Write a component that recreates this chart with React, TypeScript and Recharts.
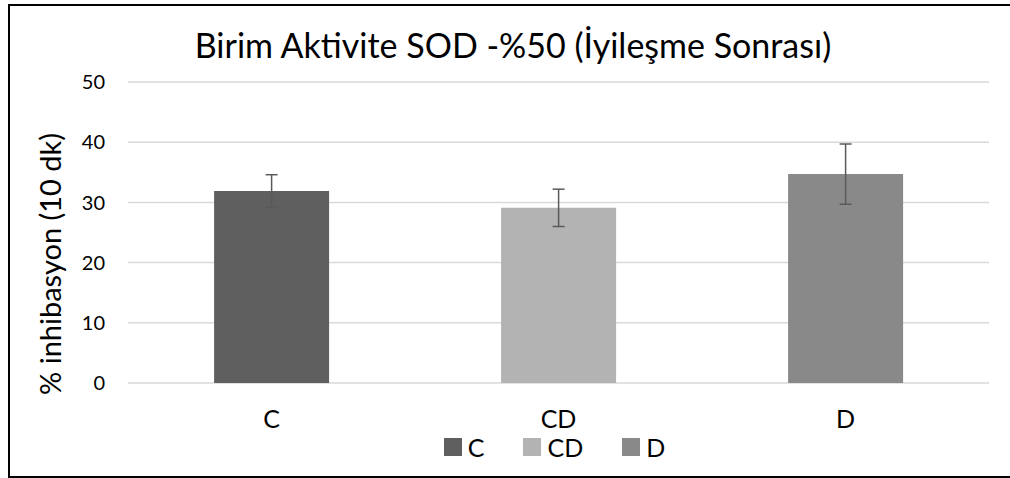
import { Bar, BarChart, CartesianGrid, Cell, ErrorBar, Legend, XAxis, YAxis } from "recharts";

const categories = ["C", "CD", "D"];
const means = [31.9, 29.1, 34.7];
const errors = [2.7, 3.1, 5.0];
const yTicks = [0, 10, 20, 30, 40, 50];
const barColors = ["#5f5f5f", "#b3b3b3", "#898989"];

const TITLE = "Birim Aktivite SOD -%50 (İyileşme Sonrası)";
const Y_LABEL = "% inhibasyon (10 dk)";
const FONT = "Lato, 'Open Sans', sans-serif";

const data = categories.map((name, i) => ({ name, value: means[i], err: errors[i] }));

/** Excel-like legend: one swatch per category, since the single series is coloured per cell. */
function CategoryLegend() {
  return (
    <div
      style={{
        display: "flex",
        justifyContent: "center",
        gap: 39,
        fontFamily: FONT,
        fontSize: 25,
        lineHeight: "18px",
        color: "#000",
      }}
    >
      {categories.map((c, i) => (
        <div key={c} style={{ display: "flex", alignItems: "center", gap: 6 }}>
          <span style={{ width: 18, height: 18, background: barColors[i], display: "inline-block" }} />
          <span>{c}</span>
        </div>
      ))}
    </div>
  );
}

function YLabel() {
  return (
    <text
      x={49}
      y={264}
      transform="rotate(-90 49 264)"
      textAnchor="middle"
      dominantBaseline="central"
      fontFamily={FONT}
      fontSize={29}
      fill="#000"
    >
      {Y_LABEL}
    </text>
  );
}

export default function App() {
  return (
    <div style={{ position: "absolute", left: 0, top: 0, width: 1010, height: 478, background: "#fff", overflow: "hidden" }}>
      <div
        style={{
          position: "absolute",
          left: 8,
          top: 4,
          width: 1010,
          height: 470,
          borderTop: "2px solid #000",
          borderLeft: "2px solid #000",
          borderBottom: "2px solid #000",
        }}
      />
      <div
        style={{
          position: "absolute",
          left: 10,
          top: 25,
          width: 1006,
          textAlign: "center",
          fontFamily: FONT,
          fontSize: 34,
          lineHeight: 1.2,
          color: "#000",
          whiteSpace: "nowrap",
        }}
      >
        {TITLE}
      </div>
      <div style={{ position: "absolute", left: 0, top: 0 }}>
        <BarChart
          width={1010}
          height={478}
          data={data}
          margin={{ top: 82, right: 21, bottom: 55, left: 68 }}
          barCategoryGap="30%"
        >
          <CartesianGrid vertical={false} stroke="#d9d9d9" strokeWidth={1.5} />
          <XAxis
            dataKey="name"
            height={40}
            axisLine={false}
            tickLine={false}
            tickMargin={21}
            tick={{ fontSize: 25, fill: "#000", fontFamily: FONT }}
          />
          <YAxis
            width={60}
            domain={[0, 50]}
            ticks={yTicks}
            axisLine={false}
            tickLine={false}
            tickMargin={17}
            tick={{ fontSize: 20, fill: "#000", fontFamily: FONT }}
            label={<YLabel />}
          />
          <Legend
            layout="horizontal"
            verticalAlign="middle"
            align="center"
            wrapperStyle={{ top: 438, left: 124, width: 861 }}
            content={() => <CategoryLegend />}
          />
          <Bar dataKey="value" isAnimationActive={false}>
            {data.map((d, i) => (
              <Cell key={d.name} fill={barColors[i]} />
            ))}
            <ErrorBar dataKey="err" width={6} stroke="#5a5a5a" strokeWidth={1.5} isAnimationActive={false} />
          </Bar>
        </BarChart>
      </div>
    </div>
  );
}
